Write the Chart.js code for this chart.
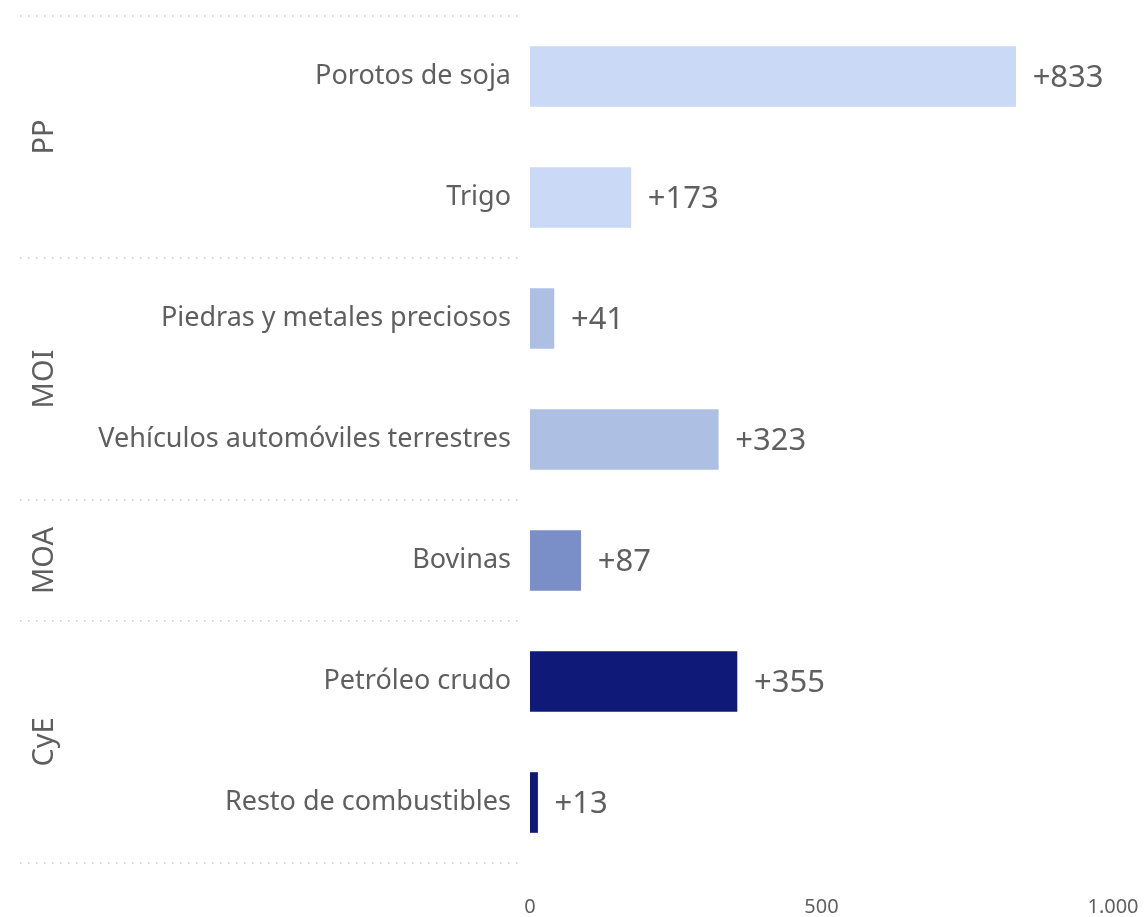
<!DOCTYPE html>
<html>
<head>
<meta charset="utf-8">
<script src="https://cdn.jsdelivr.net/npm/chart.js@4.4.1/dist/chart.umd.min.js"></script>
<style>
  html, body { margin: 0; padding: 0; background: #fff; }
  #wrap { width: 1144px; height: 917px; }
</style>
</head>
<body>
<div id="wrap"><canvas id="grafico" width="1144" height="917"></canvas></div>
<script>
const categorias = [
    'Porotos de soja', 'Trigo', 'Piedras y metales preciosos',
    'Vehículos automóviles terrestres', 'Bovinas', 'Petróleo crudo', 'Resto de combustibles'
];
const grupos = ['PP', 'PP', 'MOI', 'MOI', 'MOA', 'CyE', 'CyE'];
const valores = [833, 173, 41, 323, 87, 355, 13];
const coloresGrupo = { PP: '#c9d9f6', MOI: '#adc0e4', MOA: '#7a8fc7', CyE: '#0f1a78' };
const ticksX = [0, 500, 1000];

const fuente = "'Segoe UI', 'Noto Sans', sans-serif";
const gris = '#5f5f5f';

// etiquetas de valor, grupos y separadores punteados
const extras = {
    id: 'extras',
    afterDatasetsDraw(chart) {
        const ctx = chart.ctx;
        const y = chart.scales.y;
        const meta = chart.getDatasetMeta(0);

        ctx.save();
        ctx.fillStyle = gris;
        ctx.font = '31px ' + fuente;
        ctx.textBaseline = 'middle';
        ctx.textAlign = 'left';
        meta.data.forEach((bar, i) => {
            ctx.fillText('+' + valores[i], bar.x + 17, bar.y + 2);
        });

        // separadores entre grupos
        const mitad = (y.getPixelForValue(1) - y.getPixelForValue(0)) / 2;
        const cortes = [];
        grupos.forEach((g, i) => {
            if (i === 0 || grupos[i - 1] !== g) cortes.push(i);
        });
        ctx.strokeStyle = '#c8c8c8';
        ctx.lineWidth = 1.5;
        ctx.setLineDash([1.5, 6.5]);
        const lineas = cortes.map(i => y.getPixelForValue(i) - mitad);
        lineas.push(y.getPixelForValue(grupos.length - 1) + mitad);
        lineas.forEach(py => {
            ctx.beginPath();
            ctx.moveTo(20, py);
            ctx.lineTo(522, py);
            ctx.stroke();
        });
        ctx.setLineDash([]);

        // nombres de grupo rotados
        ctx.font = '29px ' + fuente;
        ctx.textAlign = 'center';
        cortes.forEach((ini, k) => {
            const fin = (k + 1 < cortes.length ? cortes[k + 1] : grupos.length) - 1;
            const cy = (y.getPixelForValue(ini) + y.getPixelForValue(fin)) / 2;
            ctx.save();
            ctx.translate(45, cy);
            ctx.rotate(-Math.PI / 2);
            ctx.fillText(grupos[ini], 0, 0);
            ctx.restore();
        });
        ctx.restore();
    }
};

const config = {
    type: 'bar',
    data: {
        labels: categorias,
        datasets: [{
            data: valores,
            backgroundColor: grupos.map(g => coloresGrupo[g]),
            barThickness: 60,
        }]
    },
    options: {
        indexAxis: 'y',
        responsive: false,
        animation: false,
        layout: { padding: { top: 16, right: 31, left: 0, bottom: 0 } },
        plugins: {
            legend: { display: false },
            tooltip: { enabled: false }
        },
        scales: {
            x: {
                min: 0,
                max: 1000,
                afterBuildTicks: (s) => { s.ticks = ticksX.map(v => ({ value: v })); },
                grid: { display: false, drawTicks: false },
                border: { display: false },
                ticks: {
                    color: gris,
                    padding: 32,
                    font: { family: fuente, size: 20 },
                    callback: (v) => v.toLocaleString('de-DE')
                },
                afterFit: (s) => {
                    s.height = 54;
                    s.paddingLeft = 0;
                    s.paddingRight = 0;
                }
            },
            y: {
                grid: { display: false, drawTicks: false },
                border: { display: false },
                ticks: {
                    color: gris,
                    padding: 19,
                    font: { family: fuente, size: 27 }
                },
                afterFit: (s) => {
                    s.width = 530;
                    s.paddingTop = 0;
                    s.paddingBottom = 0;
                }
            }
        }
    },
    plugins: [extras]
};

const grafico = new Chart(document.getElementById('grafico'), config);
</script>
</body>
</html>
